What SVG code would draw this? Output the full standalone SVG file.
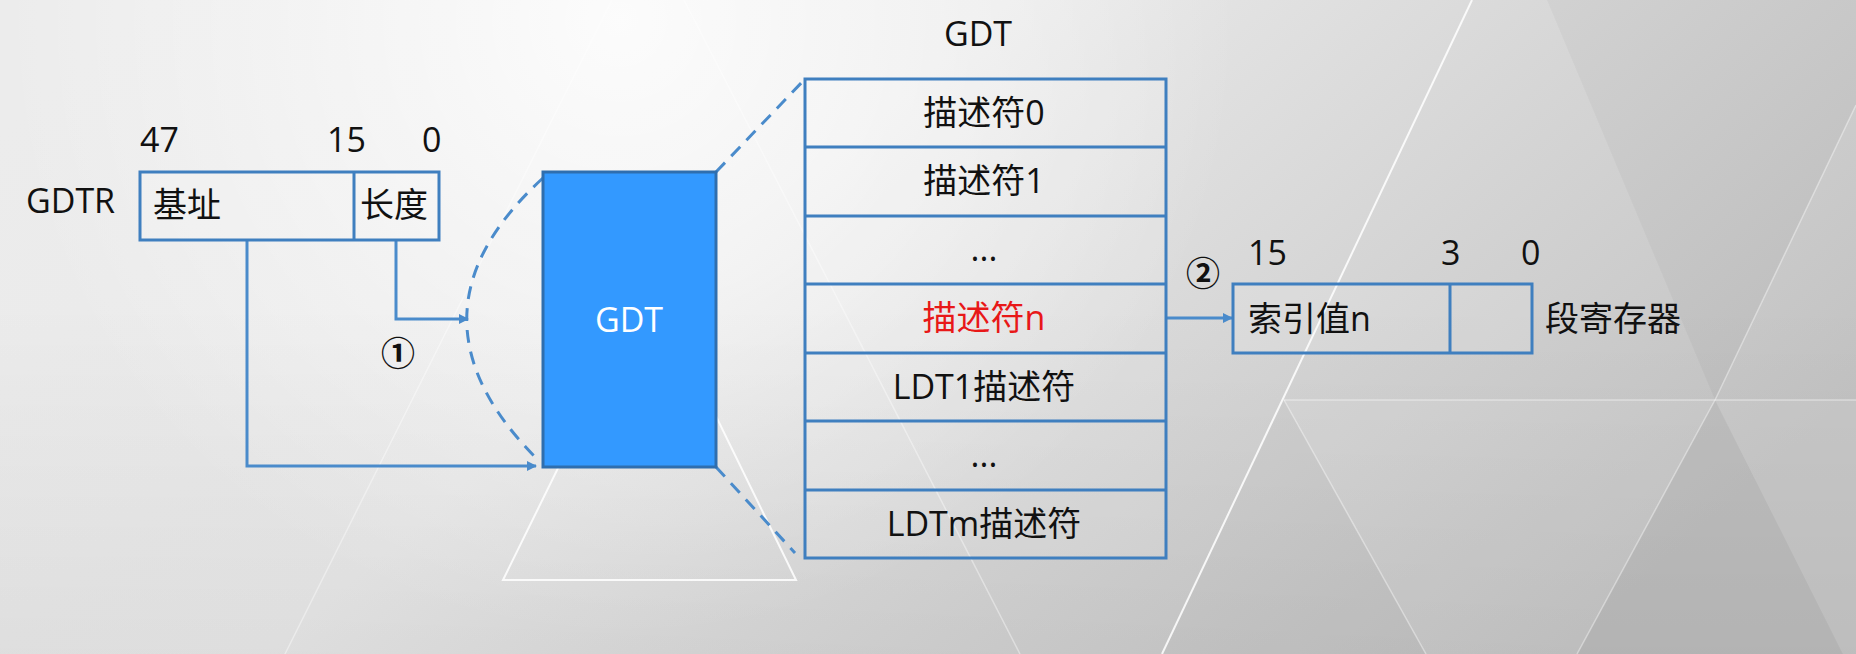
<svg xmlns="http://www.w3.org/2000/svg" width="1856" height="654" viewBox="0 0 1856 654">
  <defs>
    <linearGradient id="bgGrad" x1="0" y1="0.2" x2="1" y2="0.6">
      <stop offset="0" stop-color="#ececec"/>
      <stop offset="0.4" stop-color="#e9e9e9"/>
      <stop offset="0.72" stop-color="#d4d4d4"/>
      <stop offset="1" stop-color="#c2c2c2"/>
    </linearGradient>
    <radialGradient id="glow" cx="620" cy="20" r="620" gradientUnits="userSpaceOnUse">
      <stop offset="0" stop-color="#ffffff" stop-opacity="0.85"/>
      <stop offset="1" stop-color="#ffffff" stop-opacity="0"/>
    </radialGradient>
    <linearGradient id="floor" x1="0" y1="0" x2="0" y2="1">
      <stop offset="0" stop-color="#000000" stop-opacity="0"/>
      <stop offset="1" stop-color="#000000" stop-opacity="0.05"/>
    </linearGradient>
    <marker id="arrow" viewBox="0 0 10 10" refX="9" refY="5" markerWidth="12" markerHeight="10" markerUnits="userSpaceOnUse" orient="auto">
      <path d="M0,0 L10,5 L0,10 z" fill="#4a8bcb"/>
    </marker>
    <style>
      text { font-family: "Open Sans", "Noto Sans CJK SC", sans-serif; font-size: 34px; fill: #111111; }
      .cjk { font-family: "Noto Sans CJK SC", sans-serif; }
      .mid { text-anchor: middle; }
      .step { font-family: "Noto Sans CJK SC", sans-serif; font-size: 34px; font-weight: 700; text-anchor: middle; }
      .box { fill: none; stroke: #3f7fbf; stroke-width: 3; }
      .cell { fill: #ffffff; fill-opacity: 0.12; stroke: #3f7fbf; stroke-width: 3; }
      .wire { fill: none; stroke: #4a8bcb; stroke-width: 3; }
      .dash { fill: none; stroke: #4a8bcb; stroke-width: 3; stroke-dasharray: 13 9; }
      .bgline { fill: none; stroke: #ffffff; stroke-width: 2; stroke-opacity: 0.85; }
      .bgfaint { fill: none; stroke: #ffffff; stroke-width: 1.5; stroke-opacity: 0.4; }
    </style>
  </defs>

  <!-- backdrop -->
  <g id="background">
    <rect width="1856" height="654" fill="url(#bgGrad)"/>
    <rect width="1856" height="654" fill="url(#glow)"/>
    <rect x="0" y="300" width="1856" height="354" fill="url(#floor)"/>
    <polygon points="1284,400 1856,400 1856,654 1162,654" fill="#ffffff" fill-opacity="0.08"/>
    <polygon points="1715,400 1577,654 1856,654 1856,680" fill="#000000" fill-opacity="0.05"/>
    <polygon points="1284,400 1426,654 1162,654" fill="#000000" fill-opacity="0.03"/>
    <polygon points="1547,0 1715,400 1856,105 1856,0" fill="#000000" fill-opacity="0.03"/>
    <line class="bgline" x1="1472" y1="0" x2="1162" y2="654"/>
    <line class="bgfaint" x1="1284" y1="400" x2="1856" y2="400" stroke-opacity="0.25"/>
    <line class="bgfaint" x1="1715" y1="400" x2="1577" y2="654"/>
    <line class="bgfaint" x1="1715" y1="400" x2="1856" y2="105"/>
    <line class="bgfaint" x1="1284" y1="400" x2="1426" y2="654"/>
    <line class="bgfaint" x1="612" y1="0" x2="285" y2="654"/>
    <line class="bgfaint" x1="684" y1="0" x2="1020" y2="654"/>
    <polygon class="bgline" points="650,281 796,580 503,580" stroke-opacity="0.6"/>
  </g>

  <!-- connectors -->
  <g id="connectors">
    <path class="dash" d="M543,178 Q392,316 540,462"/>
    <line class="dash" x1="716" y1="172" x2="805" y2="79"/>
    <line class="dash" x1="716" y1="467" x2="795" y2="553"/>
    <polyline class="wire" points="247,240 247,466 536,466" marker-end="url(#arrow)"/>
    <polyline class="wire" points="396,240 396,319 468,319" marker-end="url(#arrow)"/>
    <line class="wire" x1="1166" y1="318" x2="1232" y2="318" marker-end="url(#arrow)"/>
    <text class="step" x="398" y="366">①</text>
    <text class="step" x="1203" y="286">②</text>
  </g>

  <!-- GDTR register -->
  <g id="gdtr">
    <text x="26" y="213">GDTR</text>
    <text x="140" y="152">47</text>
    <text x="327" y="152">15</text>
    <text x="422" y="152">0</text>
    <rect class="cell" x="140" y="172" width="299" height="68"/>
    <line class="box" x1="354" y1="172" x2="354" y2="240"/>
    <text class="cjk" x="153" y="217">基址</text>
    <text class="cjk" x="360" y="217">长度</text>
  </g>

  <!-- GDT block in memory -->
  <g id="gdt-block">
    <rect x="543" y="172" width="173" height="295" fill="#3399ff" stroke="#2f6eae" stroke-width="3"/>
    <text class="mid" x="629" y="332" style="fill:#ffffff">GDT</text>
  </g>

  <!-- GDT descriptor table -->
  <g id="gdt-table">
    <text class="mid" x="978" y="46">GDT</text>
    <rect class="cell" x="805" y="79" width="361" height="479"/>
    <line class="box" x1="805" y1="147" x2="1166" y2="147"/>
    <line class="box" x1="805" y1="216" x2="1166" y2="216"/>
    <line class="box" x1="805" y1="284" x2="1166" y2="284"/>
    <line class="box" x1="805" y1="353" x2="1166" y2="353"/>
    <line class="box" x1="805" y1="421" x2="1166" y2="421"/>
    <line class="box" x1="805" y1="490" x2="1166" y2="490"/>
    <text class="mid" x="984" y="125">描述符0</text>
    <text class="mid" x="984" y="193">描述符1</text>
    <text class="mid" x="984" y="261">...</text>
    <text class="mid" x="984" y="330" style="fill:#e81818">描述符n</text>
    <text class="mid" x="984" y="399">LDT1描述符</text>
    <text class="mid" x="984" y="467">...</text>
    <text class="mid" x="984" y="536">LDTm描述符</text>
  </g>

  <!-- segment register -->
  <g id="segment-register">
    <text x="1248" y="265">15</text>
    <text x="1441" y="265">3</text>
    <text x="1521" y="265">0</text>
    <rect class="cell" x="1233" y="284" width="299" height="69"/>
    <line class="box" x1="1450" y1="284" x2="1450" y2="353"/>
    <text x="1248" y="331">索引值n</text>
    <text class="cjk" x="1545" y="331">段寄存器</text>
  </g>
</svg>
